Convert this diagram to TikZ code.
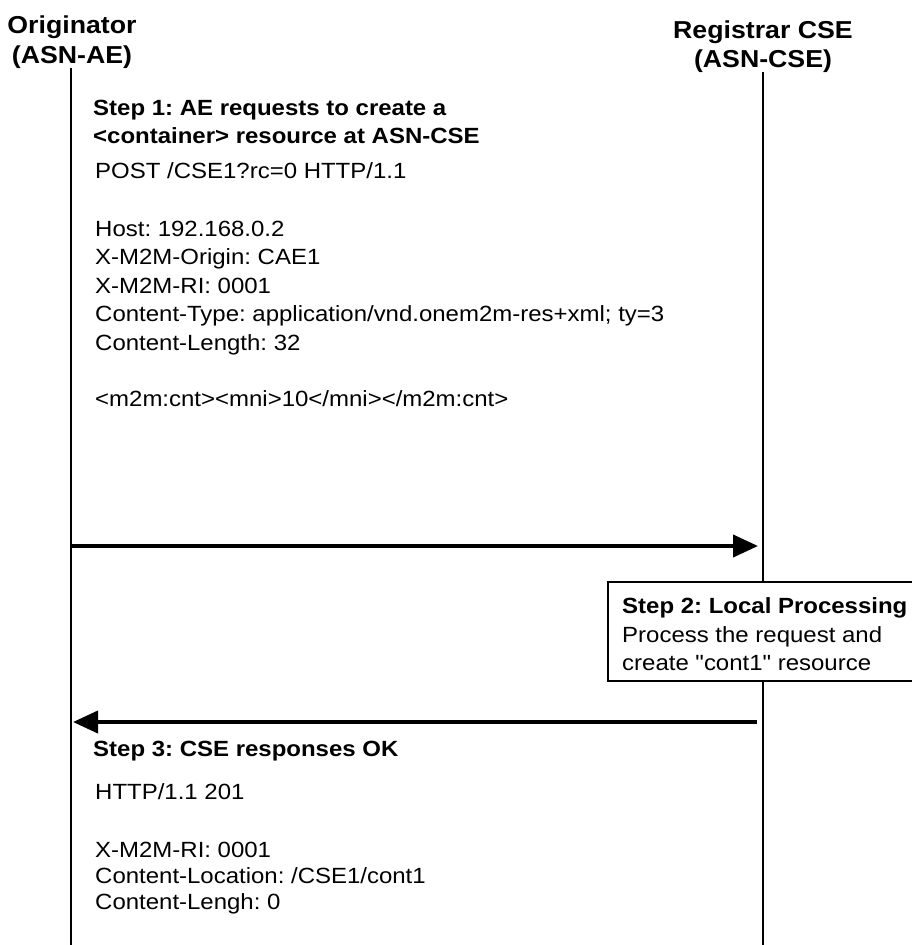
\documentclass[tikz,border=0pt]{standalone}
\usepackage{fontspec}
\setmainfont{Liberation Sans}[FakeStretch=1.09,Ligatures=TeXOff]
\usetikzlibrary{arrows.meta}
\frenchspacing
\begin{document}
\begin{tikzpicture}[x=1pt,y=-1pt,
  txt/.style={anchor=base west, inner sep=0pt, font=\fontsize{22}{26}\selectfont},
  boldtxt/.style={anchor=base west, inner sep=0pt, font=\fontsize{22}{26}\selectfont\bfseries},
  head/.style={anchor=base, inner sep=0pt, font=\fontsize{24.5}{29}\selectfont\bfseries},
  life/.style={line width=2.6pt},
  msg/.style={line width=4pt, -{Triangle[length=25pt,width=22pt]}},
  procbox/.style={draw, fill=white, line width=2pt, anchor=north west, inner sep=0pt}]
\useasboundingbox (0,0) rectangle (911,945);
% headers
\node[head] (orig) at (72,33) {Originator};
\node[head] (origsub) at (72,63) {(ASN-AE)};
\node[head] (reg) at (763,38) {Registrar CSE};
\node[head] (regsub) at (763,67) {(ASN-CSE)};
% lifelines
\coordinate (ltop) at (71,68);
\coordinate (lbot) at (71,947);
\coordinate (rtop) at (763,72);
\coordinate (rbot) at (763,947);
\draw[life] (ltop) -- (lbot);
\draw[life] (rtop) -- (rbot);
% step 1 text
\node[boldtxt] (s1a) at (93,115) {Step 1: AE requests to create a};
\node[boldtxt] (s1b) at (93,143) {<container> resource at ASN-CSE};
\node[txt] (r1) at (95,178) {POST /CSE1?rc=0 HTTP/1.1};
\node[txt] (r2) at (95,236) {Host: 192.168.0.2};
\node[txt] (r3) at (95,264.5) {X-M2M-Origin: CAE1};
\node[txt] (r4) at (95,293) {X-M2M-RI: 0001};
\node[txt] (r5) at (95,321.5) {Content-Type: application/vnd.onem2m-res+xml; ty=3};
\node[txt] (r6) at (95,350) {Content-Length: 32};
\node[txt] (r7) at (95,406) {<m2m:cnt><mni>10</mni></m2m:cnt>};
% request arrow
\coordinate (a1s) at (71,546);
\coordinate (a1e) at (758,546);
\draw[msg] (a1s) -- (a1e);
% step 2 box
\node[procbox, minimum width=305pt, minimum height=99pt] (box) at (607,581) {};
\node[boldtxt] (s2a) at (622,613) {Step 2: Local Processing};
\node[txt] (s2b) at (622,642) {Process the request and};
\node[txt] (s2c) at (622,670) {create "cont1" resource};
% response arrow
\coordinate (a2s) at (757,722);
\coordinate (a2e) at (73,722);
\draw[msg] (a2s) -- (a2e);
% step 3 text
\node[boldtxt] (s3a) at (93,756) {Step 3: CSE responses OK};
\node[txt] (p1) at (95,799) {HTTP/1.1 201};
\node[txt] (p2) at (95,857) {X-M2M-RI: 0001};
\node[txt] (p3) at (95,883) {Content-Location: /CSE1/cont1};
\node[txt] (p4) at (95,909) {Content-Lengh: 0};
\end{tikzpicture}
\end{document}
